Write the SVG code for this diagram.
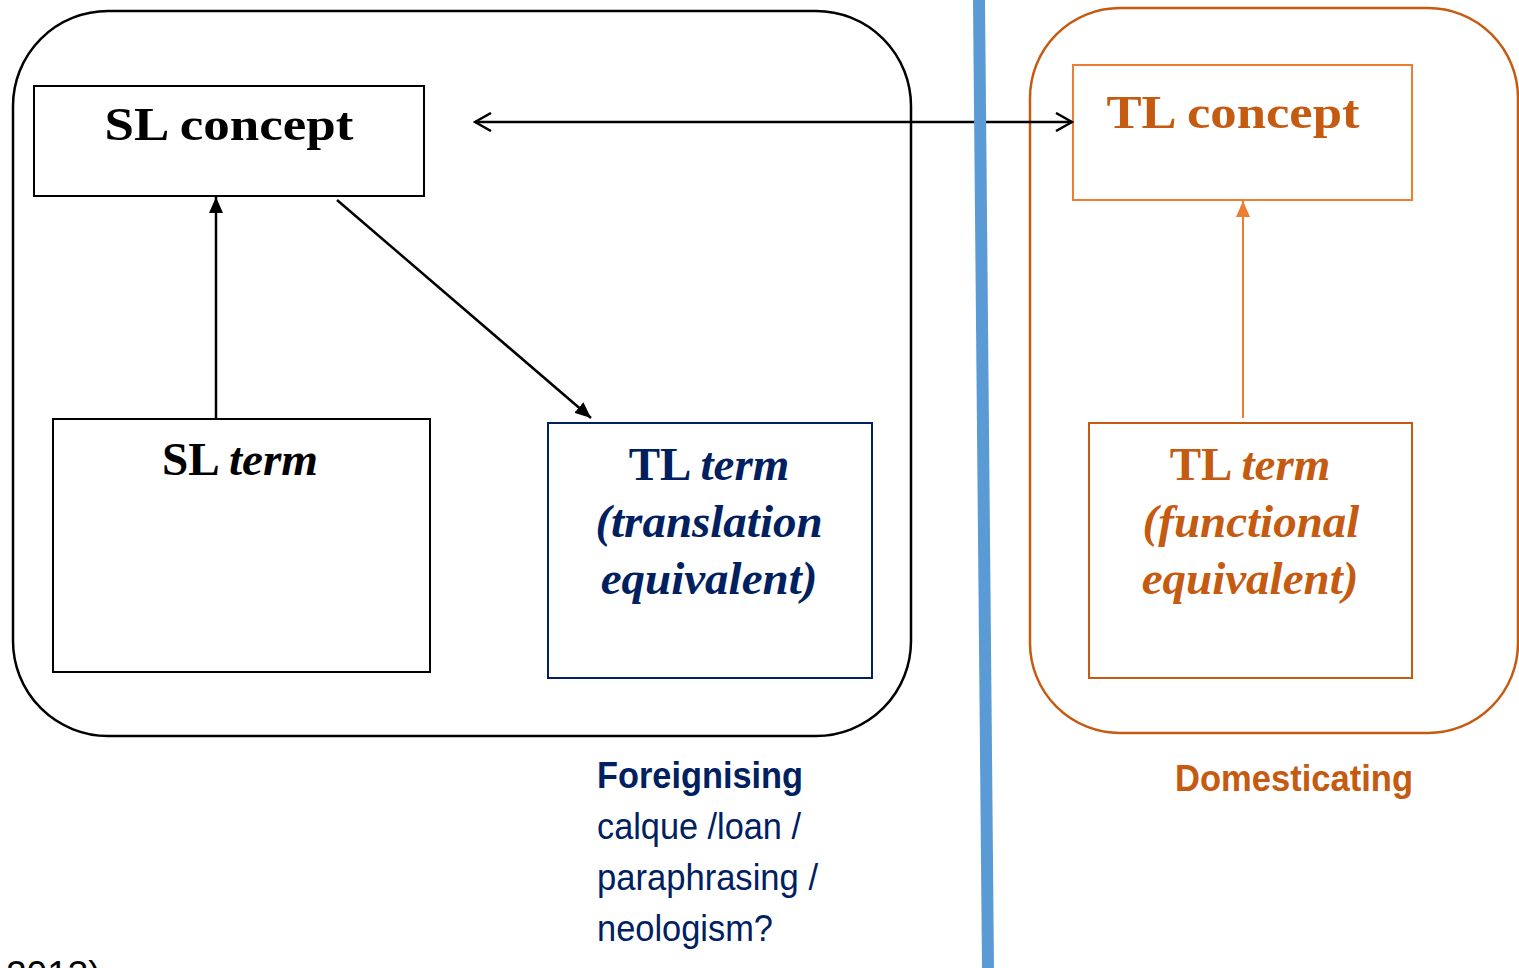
<svg xmlns="http://www.w3.org/2000/svg" width="1519" height="968" viewBox="0 0 1519 968">
<style>
.serif{font-family:"Liberation Serif","Times New Roman",serif;font-weight:bold;font-size:47px;text-anchor:middle}
.bi{font-style:italic}
.sans{font-family:"Liberation Sans",Arial,sans-serif;font-size:37px}
.navy{fill:#002060}
.orange{fill:#C55A11}
</style>
<defs>
<marker id="open" viewBox="0 0 20 20" refX="18" refY="10" markerWidth="20" markerHeight="20" markerUnits="userSpaceOnUse" orient="auto-start-reverse">
<path d="M2,1 L18,10 L2,19" fill="none" stroke="#000" stroke-width="2.5"/>
</marker>
<marker id="tri" viewBox="0 0 16 14" refX="16" refY="7" markerWidth="16" markerHeight="14" markerUnits="userSpaceOnUse" orient="auto">
<path d="M0,0 L16,7 L0,14 Z" fill="#000"/>
</marker>
<marker id="triO" viewBox="0 0 16 14" refX="16" refY="7" markerWidth="16" markerHeight="14" markerUnits="userSpaceOnUse" orient="auto">
<path d="M0,0 L16,7 L0,14 Z" fill="#ED7D31"/>
</marker>
</defs>
<rect width="1519" height="968" fill="#fff"/>
<g id="foreignising-group">
<rect x="13" y="11" width="898" height="725" rx="95" ry="95" fill="none" stroke="#000" stroke-width="2.5"/>
</g>
<g id="domesticating-group">
<rect x="1030" y="8" width="488" height="725" rx="90" ry="90" fill="none" stroke="#C55A11" stroke-width="2.5"/>
</g>
<g id="sl-concept">
<rect x="34" y="86" width="390" height="110" fill="#fff" stroke="#000" stroke-width="2"/>
<text class="serif" x="229" y="140" font-size="53" textLength="249" lengthAdjust="spacingAndGlyphs">SL concept</text>
</g>
<g id="sl-term">
<rect x="53" y="419" width="377" height="253" fill="#fff" stroke="#000" stroke-width="2"/>
<text class="serif" x="240" y="475" textLength="156" lengthAdjust="spacingAndGlyphs">SL <tspan class="bi">term</tspan></text>
</g>
<g id="tl-term-translation">
<rect x="548" y="423" width="324" height="255" fill="#fff" stroke="#002060" stroke-width="2"/>
<text class="serif navy" x="709" y="480">TL <tspan class="bi">term</tspan></text>
<text class="serif bi navy" x="709" y="537">(translation</text>
<text class="serif bi navy" x="709" y="594">equivalent)</text>
</g>
<g id="tl-concept">
<rect x="1073" y="65" width="339" height="135" fill="#fff" stroke="#ED7D31" stroke-width="2"/>
<text class="serif orange" x="1233" y="128" font-size="53" textLength="253" lengthAdjust="spacingAndGlyphs">TL concept</text>
</g>
<g id="tl-term-functional">
<rect x="1089" y="423" width="323" height="255" fill="#fff" stroke="#C55A11" stroke-width="2"/>
<text class="serif orange" x="1250" y="480">TL <tspan class="bi">term</tspan></text>
<text class="serif bi orange" x="1251" y="537">(functional</text>
<text class="serif bi orange" x="1250" y="594">equivalent)</text>
</g>
<g id="connectors">
<line x1="475" y1="122" x2="1072" y2="122" stroke="#000" stroke-width="2.5" marker-start="url(#open)" marker-end="url(#open)"/>
<line x1="216" y1="419" x2="216" y2="197" stroke="#000" stroke-width="2.5" marker-end="url(#tri)"/>
<line x1="337" y1="200" x2="591" y2="418" stroke="#000" stroke-width="2.5" marker-end="url(#tri)"/>
<line x1="1243" y1="418" x2="1243" y2="201" stroke="#ED7D31" stroke-width="2" marker-end="url(#triO)"/>
</g>
<g id="divider">
<line x1="979" y1="0" x2="988" y2="968" stroke="#5B9BD5" stroke-width="12"/>
</g>
<g id="labels">
<text class="sans navy" x="597" y="788" font-weight="bold" textLength="206" lengthAdjust="spacingAndGlyphs">Foreignising</text>
<text class="sans navy" x="597" y="839" textLength="204" lengthAdjust="spacingAndGlyphs">calque /loan /</text>
<text class="sans navy" x="597" y="890" textLength="221" lengthAdjust="spacingAndGlyphs">paraphrasing /</text>
<text class="sans navy" x="597" y="941" textLength="176" lengthAdjust="spacingAndGlyphs">neologism?</text>
<text class="sans orange" x="1175" y="791" font-weight="bold" textLength="238" lengthAdjust="spacingAndGlyphs">Domesticating</text>
<text class="sans" x="6" y="987" font-size="44" fill="#000">2013)</text>
</g>
</svg>
